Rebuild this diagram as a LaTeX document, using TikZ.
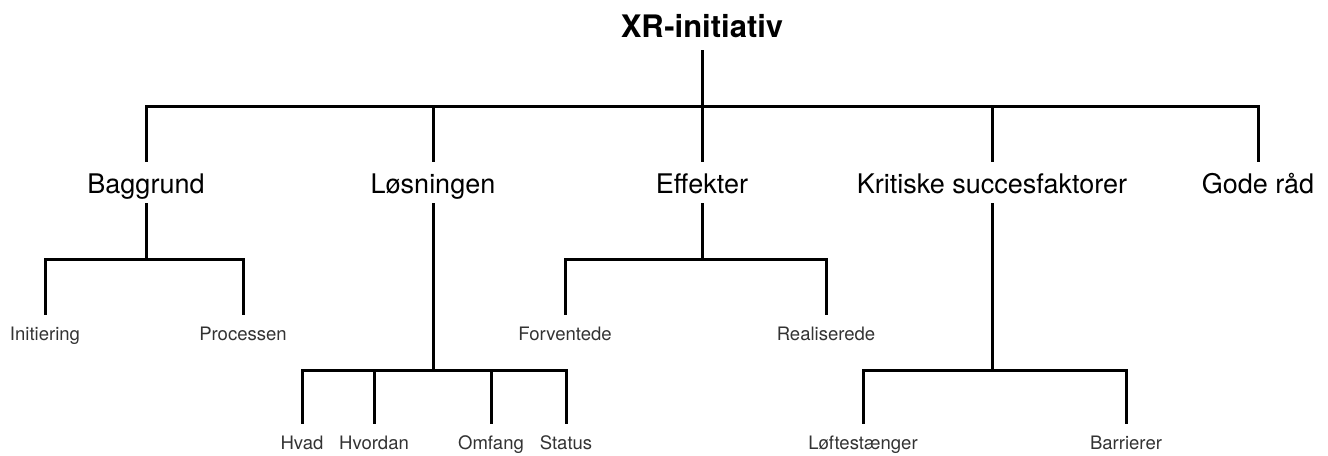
\documentclass[tikz,border=0pt]{standalone}
\usepackage{fontspec}
\setmainfont{TeX Gyre Heros}
\begin{document}
\begin{tikzpicture}[x=0.75pt,y=-0.75pt,
  rootbox/.style={anchor=base, inner sep=0pt, font=\bfseries\fontsize{23.25}{28}\selectfont, text depth=9.75pt},
  lvlone/.style={anchor=base, inner sep=0pt, font=\fontsize{20.25}{24}\selectfont, text height=23.25pt, text depth=7.5pt},
  leaf/.style={anchor=base, inner sep=0pt, font=\fontsize{13.9}{16}\selectfont, text=black!80, text height=18.75pt},
  conn/.style={line width=2.25pt, line join=miter}]
\useasboundingbox (0,0) rectangle (1328,455);
% nodes
\node[rootbox] (root) at (702,37) {XR-initiativ};
\node[lvlone] (bag) at (146,193) {Baggrund};
\node[lvlone] (los) at (433,193) {Løsningen};
\node[lvlone] (eff) at (702,193) {Effekter};
\node[lvlone] (kri) at (992,193) {Kritiske succesfaktorer};
\node[lvlone] (god) at (1258,193) {Gode råd};
\node[leaf] (ini) at (45,340) {Initiering};
\node[leaf] (pro) at (243,340) {Processen};
\node[leaf] (for) at (565,340) {Forventede};
\node[leaf] (rea) at (826,340) {Realiserede};
\node[leaf] (hva) at (302,449) {Hvad};
\node[leaf] (hvo) at (374,449) {Hvordan};
\node[leaf] (omf) at (491,449) {Omfang};
\node[leaf] (sta) at (566,449) {Status};
\node[leaf] (lof) at (863,449) {Løftestænger};
\node[leaf] (bar) at (1126,449) {Barrierer};
% bar levels
\coordinate (b0) at (0,106);
\coordinate (b1) at (0,259);
\coordinate (b2) at (0,370);
% connectors
\foreach \c in {bag,los,eff,kri,god}
  \draw[conn] (root.south) -- (root.south |- b0) -| (\c.north);
\foreach \c in {ini,pro}
  \draw[conn] (bag.south) -- (bag.south |- b1) -| (\c.north);
\foreach \c in {for,rea}
  \draw[conn] (eff.south) -- (eff.south |- b1) -| (\c.north);
\foreach \c in {hva,hvo,omf,sta}
  \draw[conn] (los.south) -- (los.south |- b2) -| (\c.north);
\foreach \c in {lof,bar}
  \draw[conn] (kri.south) -- (kri.south |- b2) -| (\c.north);
\end{tikzpicture}
\end{document}
